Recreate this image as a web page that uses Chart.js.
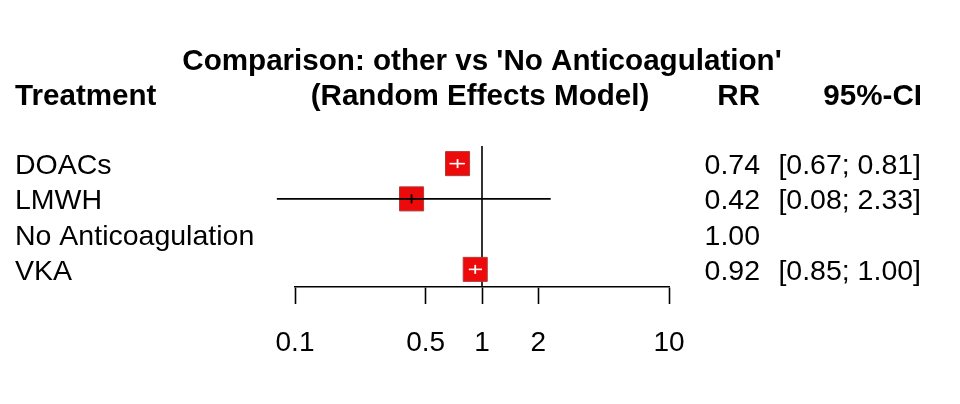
<!DOCTYPE html>
<html>
<head>
<meta charset="utf-8">
<script src="https://cdn.jsdelivr.net/npm/chart.js@4.4.1/dist/chart.umd.min.js"></script>
<style>
  html, body { margin: 0; padding: 0; background: #ffffff; }
  #wrap { width: 960px; height: 404px; position: relative; }
</style>
</head>
<body>
<div id="wrap"><canvas id="c" width="960" height="404"></canvas></div>
<script>
// ---- data ----
const titleLine1 = "Comparison: other vs 'No Anticoagulation'";
const titleLine2 = "(Random Effects Model)";
const headerTreatment = "Treatment";
const headerRR = "RR";
const headerCI = "95%-CI";
const treatments = ["DOACs", "LMWH", "No Anticoagulation", "VKA"];
const rr = [0.74, 0.42, 1.00, 0.92];
const ciLower = [0.67, 0.08, null, 0.85];
const ciUpper = [0.81, 2.33, null, 1.00];
const rrLabels = ["0.74", "0.42", "1.00", "0.92"];
const ciLabels = ["[0.67; 0.81]", "[0.08; 2.33]", "", "[0.85; 1.00]"];
const tickValues = [0.1, 0.5, 1, 2, 10];
const tickLabels = ["0.1", "0.5", "1", "2", "10"];
const referenceValue = 1;

// ---- styling ----
const FONT = '"Liberation Sans", Arial, Helvetica, sans-serif';
const REG = 28.5;
const BOLD = 29.6;
const SQUARE_RADIUS = 17; // rect point: side = 2*radius*SQRT1_2 ≈ 24px
const SQUARE_SIDE = 2 * SQUARE_RADIUS * Math.SQRT1_2;
const RED = '#ec0a0a';

// colour of a CI line: white when it lies entirely inside the square, else black
function insideColor(chart, i) {
  const xs = chart.scales.x;
  if (!xs || ciLower[i] == null) return '#000000';
  const w = xs.getPixelForValue(ciUpper[i]) - xs.getPixelForValue(ciLower[i]);
  return w < SQUARE_SIDE ? '#ffffff' : '#000000';
}

const datasets = [];

// estimate ticks (top-most)
datasets.push({
  label: 'estimate',
  order: 0,
  clip: false,
  data: rr.map((v, i) => (ciLower[i] == null ? null : { x: v, y: i })).filter(Boolean),
  pointStyle: 'line',
  rotation: 90,
  pointRadius: 4.5,
  pointHoverRadius: 4.5,
  borderWidth: 1.8,
  pointBorderColor: (ctx) => {
    const idx = ctx.raw ? ctx.raw.y : 0;
    return insideColor(ctx.chart, idx);
  },
  showLine: false
});

// confidence interval lines
rr.forEach((v, i) => {
  if (ciLower[i] == null) return;
  datasets.push({
    label: 'ci-' + treatments[i],
    order: 1,
    clip: false,
    data: [{ x: ciLower[i], y: i }, { x: ciUpper[i], y: i }],
    showLine: true,
    pointRadius: 0,
    pointHoverRadius: 0,
    borderWidth: 1.6,
    borderColor: (ctx) => insideColor(ctx.chart, i)
  });
});

// squares
datasets.push({
  label: 'squares',
  order: 2,
  clip: false,
  data: rr.map((v, i) => (ciLower[i] == null ? null : { x: v, y: i })).filter(Boolean),
  pointStyle: 'rect',
  pointRadius: SQUARE_RADIUS,
  pointHoverRadius: SQUARE_RADIUS,
  backgroundColor: RED,
  borderColor: '#b03a3a',
  borderWidth: 1,
  showLine: false
});

// reference line at RR = 1
datasets.push({
  label: 'reference',
  order: 3,
  data: [{ x: referenceValue, y: -0.5 }, { x: referenceValue, y: treatments.length - 0.5 }],
  showLine: true,
  pointRadius: 0,
  pointHoverRadius: 0,
  borderWidth: 1.6,
  borderColor: '#000000'
});

// text plugin: title, headers, and table columns
const textPlugin = {
  id: 'forestText',
  afterDraw(chart) {
    const ctx = chart.ctx;
    const ys = chart.scales.y;
    const xs = chart.scales.x;
    const centerX = (xs.left + xs.right) / 2;
    ctx.save();
    ctx.fillStyle = '#000000';
    ctx.textBaseline = 'alphabetic';

    ctx.font = 'bold ' + BOLD + 'px ' + FONT;
    ctx.textAlign = 'center';
    ctx.fillText(titleLine1, centerX, 70);
    ctx.fillText(titleLine2, centerX - 2, 105);
    ctx.textAlign = 'left';
    ctx.fillText(headerTreatment, 15, 105);
    ctx.textAlign = 'right';
    ctx.fillText(headerRR, 760, 105);
    ctx.fillText(headerCI, 922, 105);

    ctx.font = REG + 'px ' + FONT;
    treatments.forEach((t, i) => {
      const y = ys.getPixelForValue(i) + 10.5;
      ctx.textAlign = 'left';
      ctx.fillText(t, 15, y);
      ctx.textAlign = 'right';
      ctx.fillText(rrLabels[i], 760, y);
      if (ciLabels[i]) ctx.fillText(ciLabels[i], 921, y);
    });
    ctx.restore();
  }
};

new Chart(document.getElementById('c'), {
  type: 'scatter',
  data: { datasets },
  options: {
    responsive: false,
    animation: false,
    events: [],
    layout: { padding: { left: 295, right: 291, top: 146, bottom: 37 } },
    plugins: { legend: { display: false }, tooltip: { enabled: false }, title: { display: false } },
    scales: {
      x: {
        type: 'logarithmic',
        position: 'bottom',
        min: 0.1,
        max: 10,
        afterBuildTicks: (scale) => { scale.ticks = tickValues.map(v => ({ value: v })); },
        afterFit: (scale) => { scale.height = 80; },
        grid: {
          display: true,
          drawOnChartArea: false,
          drawTicks: true,
          tickLength: 17,
          tickColor: '#000000',
          tickWidth: 1.6
        },
        border: { display: true, color: '#000000', width: 1.6 },
        ticks: {
          autoSkip: false,
          maxRotation: 0,
          minRotation: 0,
          padding: 22,
          color: '#000000',
          font: { family: FONT, size: 28 },
          callback: (value) => {
            const k = tickValues.indexOf(value);
            return k >= 0 ? tickLabels[k] : '';
          }
        }
      },
      y: {
        type: 'linear',
        display: false,
        reverse: true,
        min: -0.5,
        max: treatments.length - 0.5
      }
    }
  },
  plugins: [textPlugin]
});
</script>
</body>
</html>
